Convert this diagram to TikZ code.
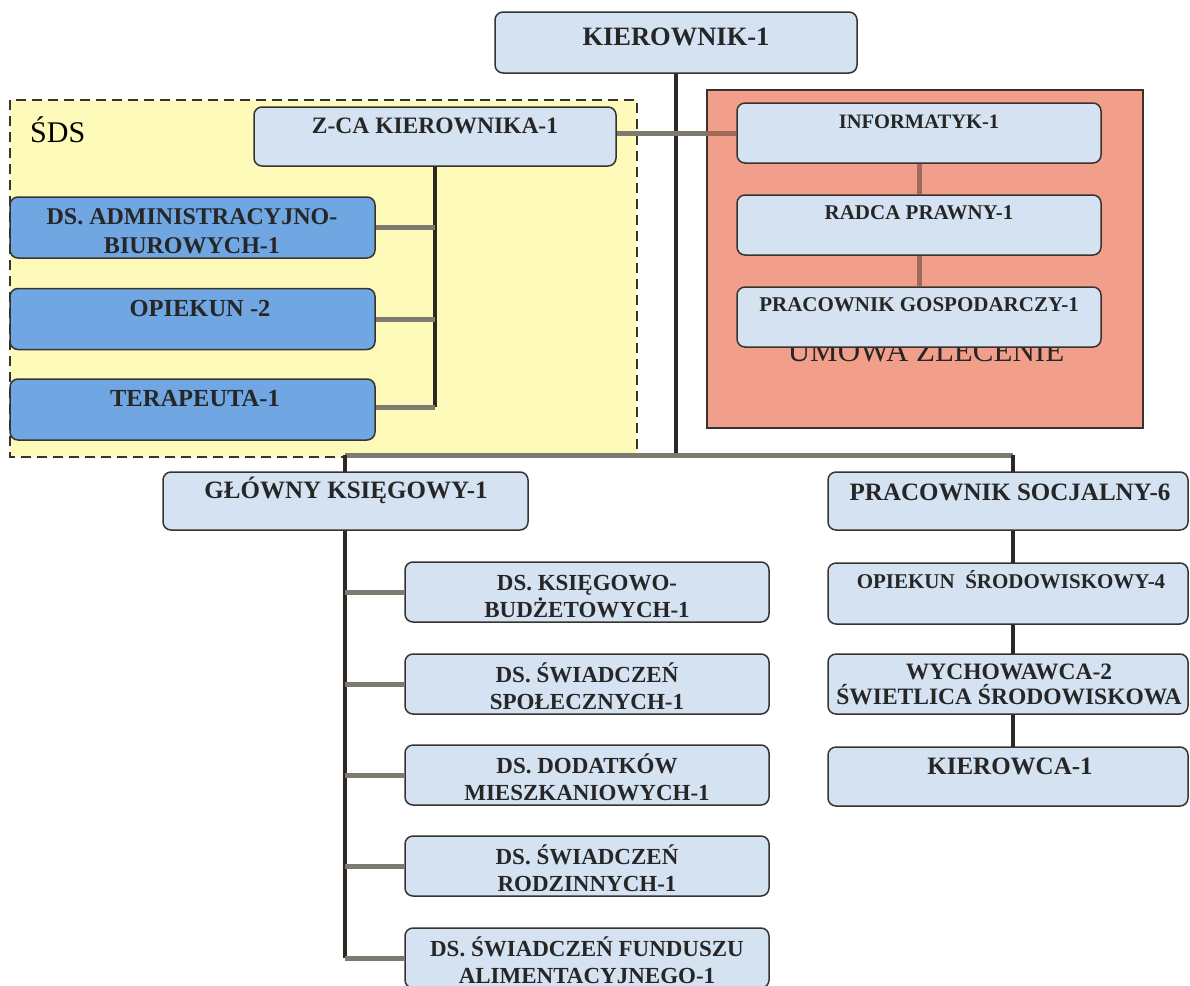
\documentclass[tikz,border=0pt]{standalone}
\usepackage{fontspec}
\setmainfont{Liberation Serif}
\definecolor{boxblue}{RGB}{212,226,242}
\definecolor{darkblue}{RGB}{112,166,226}
\definecolor{boxline}{RGB}{55,52,48}
\definecolor{sdsyellow}{RGB}{254,250,185}
\definecolor{umowared}{RGB}{241,158,138}
\definecolor{trunk}{RGB}{45,40,35}
\definecolor{branch}{RGB}{125,122,112}
\definecolor{redline}{RGB}{160,105,92}
\begin{document}
\begin{tikzpicture}[x=1pt,y=-1pt,
  box/.style={draw=boxline, line width=1.5pt, rounded corners=8pt, fill=boxblue, inner sep=0pt, minimum width=364pt, minimum height=60pt},
  bluebox/.style={box, fill=darkblue},
  txt/.style={font=\bfseries\fontsize{23}{26.5}\selectfont, align=center, inner sep=0pt, text height=15pt, text depth=0pt, text=black!85},
  bigtxt/.style={txt, font=\bfseries\fontsize{25}{30}\selectfont, text height=16.5pt},
  bluetxt/.style={txt, font=\bfseries\fontsize{24.5}{28.5}\selectfont, text height=16pt},
  smalltxt/.style={txt, font=\bfseries\fontsize{21}{26}\selectfont, text height=14pt},
  trunkline/.style={draw=trunk, line width=4pt},
  branchline/.style={draw=branch, line width=5pt},
  redbranch/.style={draw=redline, line width=5pt}]
\useasboundingbox (0,0) rectangle (1190,985);
\clip (0,0) rectangle (1190,985);
\fill[white] (0,0) rectangle (1190,985);

% background areas
\draw[fill=sdsyellow, draw=boxline, line width=1.3pt, dash pattern=on 10pt off 6pt] (10,100) rectangle (637,457);
\node[anchor=base west, font=\fontsize{30}{30}\selectfont, inner sep=0pt] (sds) at (30,142) {ŚDS};
\draw[fill=umowared, draw=boxline, line width=1.5pt] (707,90) rectangle (1143,428);
\node[anchor=base, font=\fontsize{31}{31}\selectfont, inner sep=0pt, text=black!85] (umowa) at (926,361) {UMOWA ZLECENIE};

% upper boxes
\node[box, minimum width=362pt, minimum height=61pt] (kier) at (676,42.5) {};
\node[box, minimum width=362pt, minimum height=59pt] (zca) at (435,136.5) {};
\node[box] (info) at (919,133) {};
\node[box] (radca) at (919,225) {};
\node[box] (gosp) at (919,317) {};
\node[bluebox, minimum width=365pt, minimum height=61pt] (admin) at (192.5,227.5) {};
\node[bluebox, minimum width=365pt, minimum height=61pt] (opiek) at (192.5,319) {};
\node[bluebox, minimum width=365pt, minimum height=61pt] (terap) at (192.5,409.5) {};

% coordinates for connectors
\coordinate (hl) at (345,455);
\coordinate (hr) at (1013,455);
\coordinate (gkend) at (345,958);
\coordinate (zcaend) at (435,407);
\coordinate (psend) at (1013,776);

% connectors
\draw[trunkline] (kier.south) -- (kier.south |- hl);
\draw[branchline] (zca.east |- info.west) -- (info.west);
\draw[redbranch] (707,133) -- (info.west);
\draw[redbranch] (info.south) -- (radca.north);
\draw[redbranch] (radca.south) -- (gosp.north);
\draw[trunkline] (zca.south) -- (zcaend);
\draw[branchline] (admin.east) -- (admin.east -| zcaend);
\draw[branchline] (opiek.east) -- (opiek.east -| zcaend);
\draw[branchline] (terap.east |- zcaend) -- (zcaend);
\draw[branchline] (hl) -- (hr);
\draw[trunkline] (hl) -- (gkend);
\draw[trunkline] (hr) -- (psend);

% lower boxes
\node[box, minimum width=365pt, minimum height=58pt] (gk) at (345.5,501) {};
\node[box, minimum width=360pt, minimum height=58pt] (ps) at (1008,501) {};
\node[box, minimum width=360pt, minimum height=61pt] (opsr) at (1008,593.5) {};
\node[box, minimum width=360pt] (wych) at (1008,684) {};
\node[box, minimum width=360pt, minimum height=59pt] (kierowca) at (1008,776.5) {};
\node[box] (ds1) at (587,592) {};
\node[box] (ds2) at (587,684) {};
\node[box] (ds3) at (587,775) {};
\node[box] (ds4) at (587,866) {};
\node[box] (ds5) at (587,958) {};

\foreach \n in {ds1,ds2,ds3,ds4,ds5} \draw[branchline] (\n.west -| gkend) -- (\n.west);

% texts (multi-line nodes are placed at the centre of their last line)
\node[bigtxt, font=\bfseries\fontsize{26.5}{30}\selectfont, text height=17.5pt] (tkier) at (676,36.5) {KIEROWNIK-1};
\node[txt, font=\bfseries\fontsize{23.5}{28}\selectfont] (tzca) at (435,126) {Z-CA KIEROWNIKA-1};
\node[smalltxt, font=\bfseries\fontsize{20.5}{26}\selectfont] (tinfo) at (919,121) {INFORMATYK-1};
\node[smalltxt] (tradca) at (919,212.5) {RADCA PRAWNY-1};
\node[smalltxt] (tgosp) at (919,304.5) {PRACOWNIK GOSPODARCZY-1};
\node[bluetxt, font=\bfseries\fontsize{24}{28.5}\selectfont] (tadmin) at (192,245) {DS. ADMINISTRACYJNO-\\BIUROWYCH-1};
\node[bluetxt] (topiek) at (200,308.5) {OPIEKUN -2};
\node[bluetxt] (tterap) at (195,398.5) {TERAPEUTA-1};
\node[bigtxt] (tgk) at (346,490) {GŁÓWNY KSIĘGOWY-1};
\node[bigtxt] (tps) at (1010,492.5) {PRACOWNIK SOCJALNY-6};
\node[smalltxt] (topsr) at (1011,581) {OPIEKUN\ \ ŚRODOWISKOWY-4};
\node[txt, font=\bfseries\fontsize{23.5}{25}\selectfont] (twych) at (1009,697) {WYCHOWAWCA-2\\ŚWIETLICA ŚRODOWISKOWA};
\node[bigtxt] (tkierowca) at (1010,766) {KIEROWCA-1};
\node[txt] (tds1) at (587,609.5) {DS. KSIĘGOWO-\\BUDŻETOWYCH-1};
\node[txt] (tds2) at (587,701.5) {DS. ŚWIADCZEŃ\\SPOŁECZNYCH-1};
\node[txt] (tds3) at (587,792.5) {DS. DODATKÓW\\MIESZKANIOWYCH-1};
\node[txt] (tds4) at (587,883.5) {DS. ŚWIADCZEŃ\\RODZINNYCH-1};
\node[txt] (tds5) at (587,975.5) {DS. ŚWIADCZEŃ FUNDUSZU\\ALIMENTACYJNEGO-1};
\end{tikzpicture}
\end{document}
